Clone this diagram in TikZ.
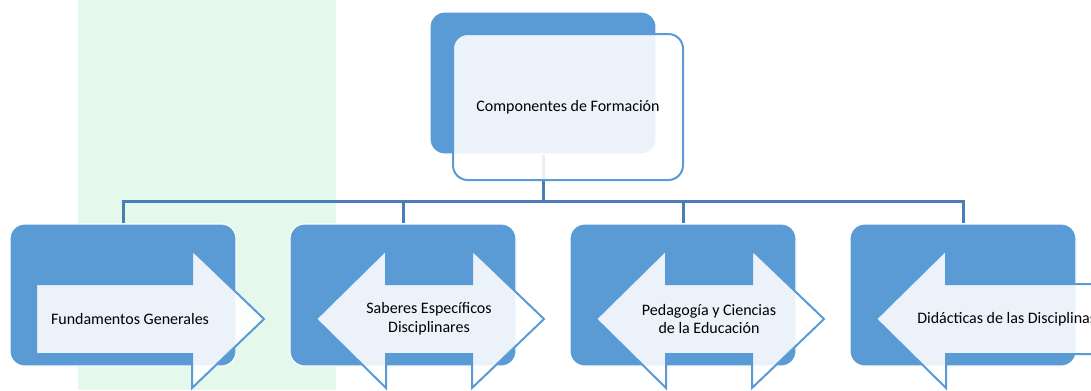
\documentclass[tikz,border=0pt]{standalone}
\usepackage{fontspec}
\setmainfont{Carlito}
\definecolor{accent}{HTML}{5B9BD5}
\definecolor{conncol}{HTML}{4A7EB6}
\definecolor{band}{HTML}{E4F8EC}
\begin{document}
\begin{tikzpicture}[x=0.75pt,y=-0.75pt,
  bluebox/.style={rectangle, rounded corners=11pt, fill=accent, draw=white, line width=0.8pt,
    minimum width=226*0.75pt, minimum height=142*0.75pt, inner sep=0pt},
  lightbox/.style={rectangle, rounded corners=11pt, fill=white, fill opacity=0.88, text opacity=1,
    draw=accent, line width=1.5pt, minimum width=230*0.75pt, minimum height=146*0.75pt, inner sep=0pt},
  lightshape/.style={fill=white, fill opacity=0.88, draw=accent, line width=1.5pt, line join=miter},
  conn/.style={draw=conncol, line width=2.25pt},
  lbl/.style={font=\fontsize{12}{14}\selectfont, align=center, text=black, inner sep=0pt}]
\useasboundingbox (0,0) rectangle (1091,390);
\clip (0,0) rectangle (1091,390);
\fill[band] (78,0) rectangle (336,390);

% boxes
\node[bluebox] (top) at (543,83) {};
\node[bluebox] (b1) at (123,295) {};
\node[bluebox] (b2) at (403,295) {};
\node[bluebox] (b3) at (683,295) {};
\node[bluebox] (b4) at (963,295) {};

\coordinate (hub) at (543,201.5);
\draw[conn] (top.south) -- (hub);
\draw[conn] (hub) -| (b1.north);
\draw[conn] (hub) -| (b2.north);
\draw[conn] (hub) -| (b3.north);
\draw[conn] (hub) -| (b4.north);

\node[lightbox] (topl) at (568,107) {};
\node[lbl] (ttop) at (568,107) {Componentes de Formación};

% arrow 1
\path[lightshape] (36,284) -- (192,284) -- (192,250) -- (264,319) -- (192,388) -- (192,354) -- (36,354) -- cycle;
\node[lbl] (t1) at (130,319) {Fundamentos Generales};

% arrow 2
\path[lightshape] (316,319) -- (386,250) -- (386,284) -- (472,284) -- (472,250) -- (544,319) -- (472,388) -- (472,354) -- (386,354) -- (386,388) -- cycle;
\node[lbl] (t2) at (429,319) {Saberes Específicos\\Disciplinares};

% arrow 3
\path[lightshape] (596,319) -- (666,250) -- (666,284) -- (752,284) -- (752,250) -- (824,319) -- (752,388) -- (752,354) -- (666,354) -- (666,388) -- cycle;
\node[lbl] (t3) at (709,319) {Pedagogía y Ciencias\\de la Educación};

% arrow 4
\path[lightshape] (876,319) -- (946,250) -- (946,284) -- (1130,284) -- (1130,354) -- (946,354) -- (946,388) -- cycle;
\node[lbl, anchor=west] (t4) at (917,319) {Didácticas de las Disciplinas};
\end{tikzpicture}
\end{document}
